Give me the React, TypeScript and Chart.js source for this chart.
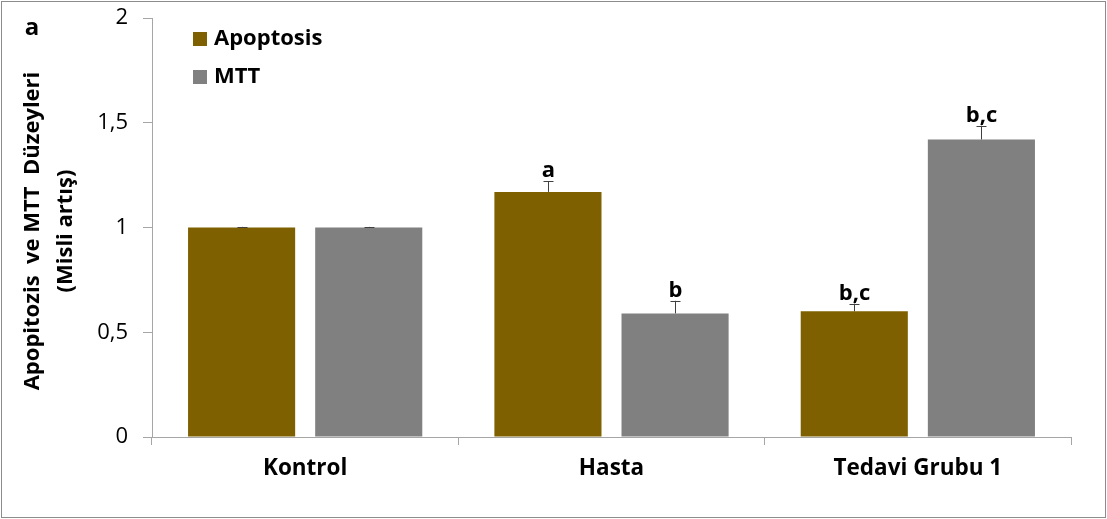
import React, { useEffect, useRef } from "react";
import { Chart, registerables } from "chart.js";

Chart.register(...registerables);

const categories = ["Kontrol", "Hasta", "Tedavi Grubu 1"];
const apoptosis = [1.0, 1.17, 0.6];
const apoptosisErr = [0.003, 0.052, 0.037];
const mtt = [1.0, 0.59, 1.42];
const mttErr = [0.003, 0.06, 0.066];
const apoptosisLetters = ["", "a", "b,c"];
const mttLetters = ["", "b", "b,c"];
const seriesNames = ["Apoptosis", "MTT"];
const yTickValues = [0, 0.5, 1, 1.5, 2];
const yTitleLines = ["Apopitozis  ve MTT  Düzeyleri", "(Misli artış)"];
const panelLetter = "a";

const FONT = "'Open Sans', Lato, sans-serif";
const APO_COLOR = "#7F6000";
const MTT_COLOR = "#808080";

export default function App() {
  const ref = useRef<HTMLCanvasElement | null>(null);

  useEffect(() => {
    const canvas = ref.current;
    if (!canvas) return;
    const errs = [apoptosisErr, mttErr];
    const letters = [apoptosisLetters, mttLetters];

    const decor = {
      id: "decor",
      beforeDraw(chart: any) {
        const c = chart.ctx;
        c.save();
        c.fillStyle = "#ffffff";
        c.fillRect(0, 0, chart.width, chart.height);
        c.strokeStyle = "#8c8c8c";
        c.lineWidth = 1;
        c.strokeRect(1.5, 1.5, chart.width - 3, chart.height - 3);
        c.restore();
      },
      afterDatasetsDraw(chart: any) {
        const c = chart.ctx;
        const yScale = chart.scales.y;
        c.save();
        chart.data.datasets.forEach((ds: any, di: number) => {
          const meta = chart.getDatasetMeta(di);
          meta.data.forEach((el: any, i: number) => {
            const v = ds.data[i];
            const topY = yScale.getPixelForValue(v + errs[di][i]);
            const x = Math.round(el.x) + 0.5;
            c.strokeStyle = "#404040";
            c.lineWidth = 1;
            c.beginPath();
            c.moveTo(x, el.y);
            c.lineTo(x, topY);
            c.moveTo(x - 5, Math.round(topY) + 0.5);
            c.lineTo(x + 5, Math.round(topY) + 0.5);
            c.stroke();
            const t = letters[di][i];
            if (t) {
              c.fillStyle = "#000000";
              c.font = `bold 22px ${FONT}`;
              c.textAlign = "center";
              c.textBaseline = "alphabetic";
              c.fillText(t, x, topY - 4);
            }
          });
        });
        c.restore();
      },
      afterDraw(chart: any) {
        const c = chart.ctx;
        c.save();
        // legend
        const colors = [APO_COLOR, MTT_COLOR];
        const ys = [39, 77];
        for (let k = 0; k < 2; k++) {
          c.fillStyle = colors[k];
          c.fillRect(193, ys[k] - 7, 14, 14);
          c.fillStyle = "#000000";
          c.font = `bold 22px ${FONT}`;
          c.textAlign = "left";
          c.textBaseline = "middle";
          c.fillText(chart.data.datasets[k].label, 214, ys[k]);
        }
        // panel letter
        c.font = `bold 24px ${FONT}`;
        c.textAlign = "center";
        c.textBaseline = "middle";
        c.fillText(panelLetter, 32, 28);
        // y title
        const cx = [33, 66];
        for (let k = 0; k < yTitleLines.length; k++) {
          c.save();
          c.translate(cx[k], 231);
          c.rotate(-Math.PI / 2);
          c.font = `bold 22px ${FONT}`;
          c.textAlign = "center";
          c.textBaseline = "middle";
          c.fillText(yTitleLines[k], 0, 0);
          c.restore();
        }
        c.restore();
      },
    };

    const chart = new Chart(canvas, {
      type: "bar",
      data: {
        labels: categories,
        datasets: [
          {
            label: seriesNames[0],
            data: apoptosis,
            backgroundColor: APO_COLOR,
            categoryPercentage: 0.83,
            barPercentage: 0.8425,
          },
          {
            label: seriesNames[1],
            data: mtt,
            backgroundColor: MTT_COLOR,
            categoryPercentage: 0.83,
            barPercentage: 0.8425,
          },
        ],
      },
      options: {
        animation: false,
        responsive: false,
        maintainAspectRatio: false,
        layout: { padding: { top: 18, right: 36, left: 0, bottom: 0 } },
        plugins: { legend: { display: false }, tooltip: { enabled: false } },
        scales: {
          x: {
            grid: {
              display: true,
              offset: true,
              drawOnChartArea: false,
              drawTicks: true,
              tickLength: 8,
              color: "#a6a6a6",
            },
            border: { display: true, color: "#a6a6a6" },
            ticks: {
              color: "#000000",
              font: { family: FONT, size: 22.5, weight: "bold" },
              padding: 10,
            },
            afterFit(scale: any) {
              scale.height = 82;
              scale.paddingLeft = 0;
              scale.paddingRight = 0;
            },
          },
          y: {
            min: 0,
            max: 2,
            afterBuildTicks(scale: any) {
              scale.ticks = yTickValues.map((v) => ({ value: v }));
            },
            grid: {
              display: true,
              drawOnChartArea: false,
              drawTicks: true,
              tickLength: 9,
              color: "#a6a6a6",
            },
            border: { display: true, color: "#a6a6a6" },
            ticks: {
              color: "#000000",
              font: { family: FONT, size: 22 },
              padding: 15,
              callback: (v: any) => String(v).replace(".", ","),
            },
            afterFit(scale: any) {
              scale.width = 152;
              scale.paddingTop = 0;
              scale.paddingBottom = 0;
            },
          },
        },
      },
      plugins: [decor],
    });
    return () => chart.destroy();
  }, []);

  return (
    <div style={{ position: "fixed", left: 0, top: 0, width: 1107, height: 519 }}>
      <canvas ref={ref} width={1107} height={519} style={{ width: 1107, height: 519 }} />
    </div>
  );
}
